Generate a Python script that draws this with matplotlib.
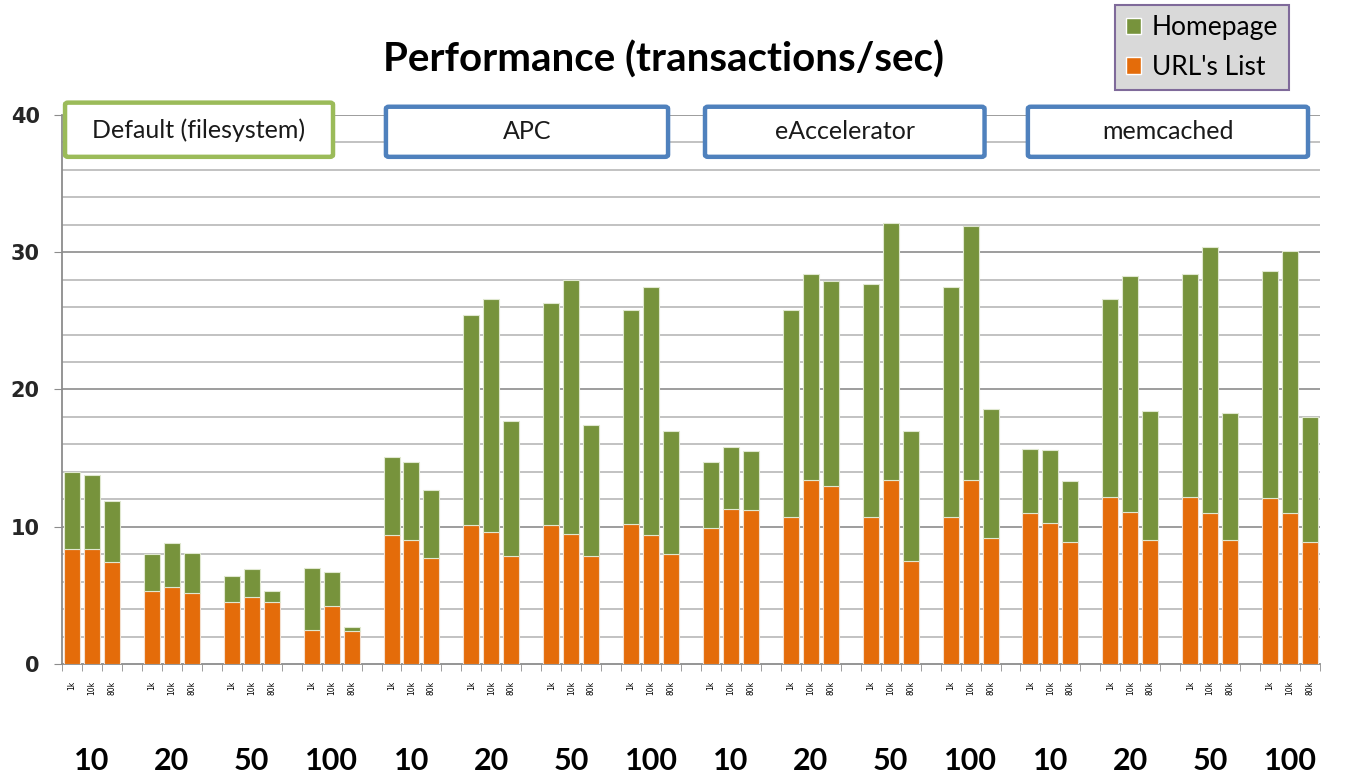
import numpy as np
import matplotlib.pyplot as plt
from matplotlib.patches import FancyBboxPatch, Patch

# 数据：每组三个柱（1k / 10k / 80k），16组
sizes = ['1k', '10k', '80k']
users = ['10', '20', '50', '100'] * 4
caches = ['Default (filesystem)', 'APC', 'eAccelerator', 'memcached']

url_list = [
    8.4, 8.4, 7.4,   5.3, 5.6, 5.2,   4.5, 4.9, 4.5,   2.5, 4.2, 2.4,
    9.4, 9.0, 7.7,   10.1, 9.6, 7.9,  10.1, 9.5, 7.9,  10.2, 9.4, 8.0,
    9.9, 11.3, 11.2, 10.7, 13.4, 13.0, 10.7, 13.4, 7.5, 10.7, 13.4, 9.2,
    11.0, 10.3, 8.9, 12.2, 11.1, 9.0, 12.2, 11.0, 9.0, 12.1, 11.0, 8.9,
]
homepage = [
    5.6, 5.4, 4.5,   2.7, 3.2, 2.9,   1.9, 2.0, 0.8,   4.5, 2.5, 0.3,
    5.7, 5.7, 5.0,   15.3, 17.0, 9.8, 16.2, 18.5, 9.5, 15.6, 18.1, 9.0,
    4.8, 4.5, 4.3,   15.1, 15.0, 14.9, 17.0, 18.7, 9.5, 16.8, 18.5, 9.4,
    4.7, 5.3, 4.4,   14.4, 17.2, 9.4, 16.2, 19.4, 9.3, 16.5, 19.1, 9.1,
]

c_url = '#E46C0A'
c_home = '#77933C'

fig = plt.figure(figsize=(13.49, 7.80), dpi=100)
ax = fig.add_axes([0.046, 0.1487, 0.9325, 0.7039])

# 每组3个柱加一个空位
x = []
for g in range(len(users)):
    for j in range(3):
        x.append(g * 4 + j)
x = np.array(x)

ax.bar(x, url_list, width=0.8, color=c_url, edgecolor='#F4E0D0', linewidth=0.8, zorder=3)
ax.bar(x, homepage, width=0.8, bottom=url_list, color=c_home, edgecolor='#E0E8D0',
       linewidth=0.8, zorder=3)

ax.set_xlim(-0.5, 62.5)
ax.set_ylim(0, 40)

# 网格
for v in np.arange(2, 41, 2):
    col = '#8C8C8C' if v % 10 == 0 else '#B8B8B8'
    ax.axhline(v, color=col, lw=1.2, zorder=1)

for s in ['top', 'right']:
    ax.spines[s].set_visible(False)
ax.spines['left'].set_color('#8C8C8C')
ax.spines['bottom'].set_color('#8C8C8C')
ax.spines['left'].set_linewidth(1.3)
ax.spines['bottom'].set_linewidth(1.3)

ax.set_yticks([0, 10, 20, 30, 40])
ax.set_yticklabels(['0', '10', '20', '30', '40'], fontsize=15, fontweight='bold',
                   color='#262626', family='DejaVu Sans')
ax.tick_params(axis='y', length=6, color='#8C8C8C', pad=10)

# x轴：每个位置的小标签 + 边界刻度
ax.set_xticks(x)
ax.set_xticklabels(sizes * len(users), rotation=90, fontsize=5.5, family='DejaVu Sans')
ax.tick_params(axis='x', length=0, pad=12)
ax.set_xticks(np.arange(-0.5, 63, 1), minor=True)
ax.tick_params(axis='x', which='minor', length=5, color='#8C8C8C')

# 组标签（用户数）
for g, u in enumerate(users):
    ax.text(g * 4 + 1, -7.1, u, ha='center', va='center', fontsize=22,
            fontweight='bold', family='Lato', clip_on=False)

# 缓存类型标签框
boxes = [(-0.35, 13.07, 40.9), (15.72, 29.85, 40.6), (31.7, 45.7, 40.6), (47.87, 61.9, 40.6)]
for i, (name, (x0, x1, y1)) in enumerate(zip(caches, boxes)):
    ec = '#9BBB59' if i == 0 else '#4F81BD'
    y0 = 36.95
    rect = FancyBboxPatch((x0, y0), x1 - x0, y1 - y0,
                          boxstyle='round,pad=0,rounding_size=0.15',
                          facecolor='white', edgecolor=ec, lw=3.2, zorder=5, clip_on=False)
    ax.add_patch(rect)
    ax.text((x0 + x1) / 2, (y0 + y1) / 2, name, ha='center', va='center', fontsize=18,
            family='Lato', color='#1A1A1A', zorder=6)

fig.text(0.492, 0.924, 'Performance (transactions/sec)', ha='center', va='center',
         fontsize=29, fontweight='bold', family='Lato')

# 图例
handles = [Patch(facecolor=c_home, edgecolor='white'), Patch(facecolor=c_url, edgecolor='white')]
leg = fig.legend(handles, ['Homepage', "URL's List"], loc='upper left',
                 bbox_to_anchor=(0.8265, 0.994), frameon=True, fancybox=False,
                 prop={'family': 'Lato', 'size': 19}, handlelength=0.6, handleheight=0.6,
                 handletextpad=0.4, borderpad=0.4, labelspacing=0.55, borderaxespad=0)
leg.get_frame().set_facecolor('#D9D9D9')
leg.get_frame().set_edgecolor('#7F6A9A')
leg.get_frame().set_linewidth(1.5)
leg.get_frame().set_alpha(1)

fig.savefig('out.png', dpi=100)
